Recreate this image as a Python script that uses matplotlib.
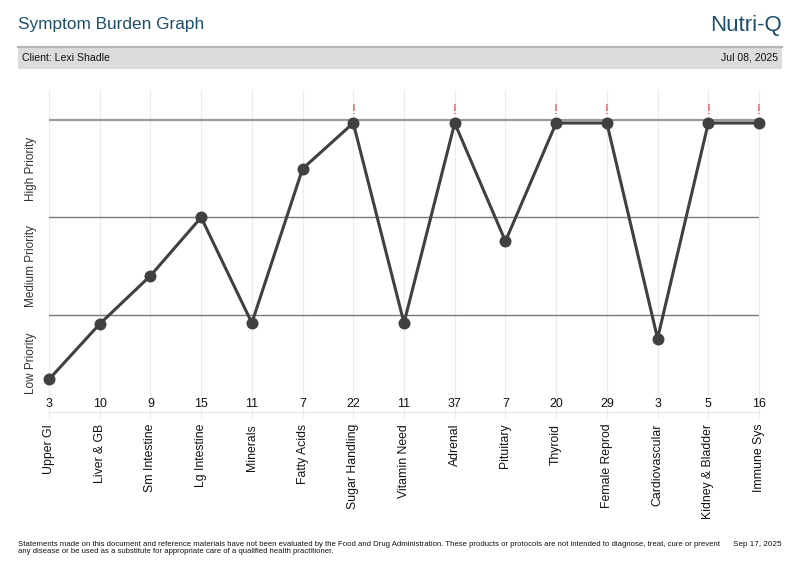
import matplotlib
matplotlib.use("Agg")
import matplotlib.pyplot as plt
from matplotlib.patches import Rectangle
from matplotlib.lines import Line2D

plt.rcParams['font.family'] = ['Liberation Sans', 'DejaVu Sans']

categories = ["Upper GI", "Liver & GB", "Sm Intestine", "Lg Intestine", "Minerals",
              "Fatty Acids", "Sugar Handling", "Vitamin Need", "Adrenal", "Pituitary",
              "Thyroid", "Female Reprod", "Cardiovascular", "Kidney & Bladder", "Immune Sys"]
scores = [3, 10, 9, 15, 11, 7, 22, 11, 37, 7, 20, 29, 3, 5, 16]
levels = [0.335, 0.905, 1.40, 2.00, 0.915, 2.50, 2.97, 0.915, 2.97, 1.755,
          2.97, 2.97, 0.755, 2.97, 2.97]
flagged = [False, False, False, False, False, False, True, False, True, False,
           True, True, False, True, True]
band_labels = ["Low Priority", "Medium Priority", "High Priority"]
title = "Symptom Burden Graph"
brand = "Nutri-Q"
client = "Client: Lexi Shadle"
report_date = "Jul 08, 2025"
print_date = "Sep 17, 2025"
disclaimer = ("Statements made on this document and reference materials have not been evaluated by the Food and Drug "
              "Administration. These products or protocols are not intended to diagnose, treat, cure or prevent\n"
              "any disease or be used as a substitute for appropriate care of a qualified health practitioner.")

W, H = 800, 578
fig = plt.figure(figsize=(W / 100, H / 100), dpi=100)

def fx(px):
    return px / W

def fy(py):
    return 1 - py / H

teal = "#1d4f68"
fig.text(fx(18), fy(25), title, fontsize=12.4, color=teal, ha="left", va="center")
fig.text(fx(782), fy(26), brand, fontsize=16, color=teal, ha="right", va="center")

# header band
fig.patches.append(Rectangle((fx(18), fy(69)), fx(782) - fx(18), fy(46) - fy(69),
                             transform=fig.transFigure, facecolor="#dcdcdc", edgecolor="none"))
fig.lines.append(Line2D([fx(18), fx(782)], [fy(47), fy(47)], transform=fig.transFigure,
                        color="#b4b4b4", lw=1.6))
fig.text(fx(22), fy(58), client, fontsize=7.6, color="#111111", ha="left", va="center")
fig.text(fx(778), fy(58), report_date, fontsize=7.6, color="#111111", ha="right", va="center")

# main axes
unit = 97.3
ax = fig.add_axes([fx(49), fy(412), fx(759) - fx(49), (412 - 90) / H])
n = len(categories)
xs = list(range(n))
ax.set_xlim(0, n - 1)
ax.set_ylim(0, (412 - 90) / unit)
for s in ax.spines.values():
    s.set_visible(False)
ax.set_yticks([])

for x in xs:
    ax.plot([x, x], [-0.05, (412 - 90) / unit], color="#ececec", lw=0.9, zorder=0, clip_on=False)
ax.plot([0, n - 1], [0, 0], color="#e6e6e6", lw=0.9, zorder=0, clip_on=False)
ax.plot([0, n - 1], [1, 1], color="#7a7a7a", lw=1.0, zorder=1)
ax.plot([0, n - 1], [2, 2], color="#7a7a7a", lw=1.0, zorder=1)
ax.plot([0, n - 1], [3, 3], color="#9a9a9a", lw=1.6, zorder=1)

ax.plot(xs, levels, color="#404040", lw=2.2, marker="o", ms=7.6, mfc="#404040", mec="#404040",
        zorder=3, clip_on=False)

for x, f in zip(xs, flagged):
    if f:
        ax.text(x, 3.10, "!", color="#e03a3a", fontsize=10, ha="center", va="center")

for x, s in zip(xs, scores):
    ax.text(x, 0.085, str(s), fontsize=8.9, color="#111111", ha="center", va="center")

ax.set_xticks(xs)
ax.set_xticklabels(categories, rotation=90, fontsize=8.8, color="#111111", va="top", ha="center")
ax.tick_params(axis="x", length=0, pad=8.5)

for i, lab in enumerate(band_labels):
    ax.text(-18 / 50.7, i + 0.5, lab, rotation=90, fontsize=8.5, color="#333333",
            ha="center", va="center", transform=ax.transData)

fig.text(fx(18), fy(548), disclaimer, fontsize=5.62, color="#111111", ha="left", va="center",
         linespacing=1.1)
fig.text(fx(782), fy(545), print_date, fontsize=5.9, color="#111111", ha="right", va="center")

fig.savefig("out.png", dpi=100)
